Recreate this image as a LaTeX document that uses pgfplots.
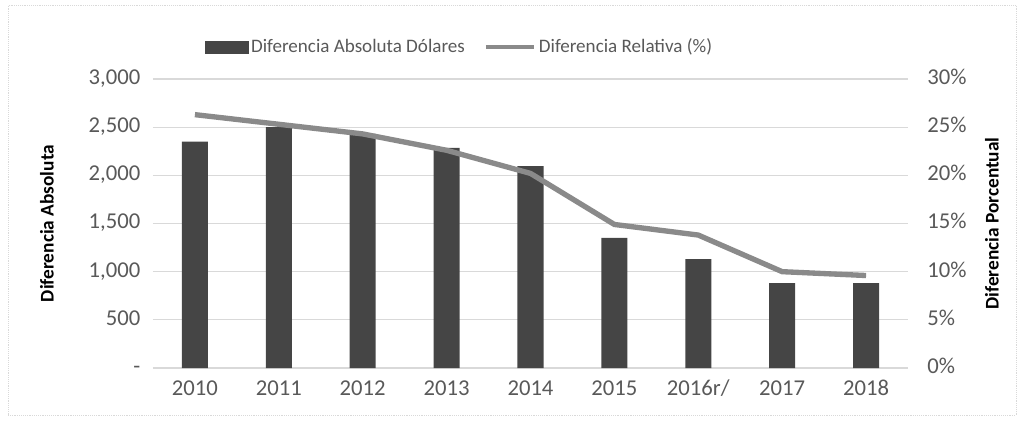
\documentclass[border=0pt]{standalone}
\usepackage{pgfplots}
\pgfplotsset{compat=1.18}
\usepackage{pgfplotstable}
\usepackage{fontspec}
\setmainfont{Carlito}

\definecolor{barfill}{HTML}{454545}
\definecolor{linegray}{HTML}{8A8A8A}
\definecolor{ticktext}{HTML}{595959}
\definecolor{gridgray}{HTML}{D9D9D9}

\pgfplotstableread{
x label  dif   pct
0 2010   2350  26.3
1 2011   2500  25.3
2 2012   2430  24.3
3 2013   2285  22.6
4 2014   2095  20.2
5 2015   1350  14.9
6 2016r/ 1130  13.8
7 2017    880  10.0
8 2018    880   9.6
}\datos

\begin{document}
\begin{tikzpicture}
\pgfplotsset{
  base/.style={
    at={(0,0)}, anchor=south west,
    scale only axis, width=566.25pt, height=216.75pt,
    xmin=-0.5, xmax=8.5,
    axis line style={draw=none},
    major tick length=0pt,
    typeset ticklabels with strut,
    tick label style={font=\fontsize{17}{20}\selectfont, text=ticktext},
    /pgf/number format/assume math mode=true,
  }
}
\begin{axis}[base,
  ymin=0, ymax=3000,
  ytick={0,500,...,3000},
  yticklabels={-,500,{1,000},{1,500},{2,000},{2,500},{3,000}},
  xtick=data,
  xticklabels from table={\datos}{label},
  ymajorgrids, grid style={gridgray, line width=0.8pt},
  ylabel={Diferencia Absoluta},
  ylabel style={at={(axis description cs:0,0.5)}, anchor=center, yshift=79.5pt,
    font=\bfseries\fontsize{14.5}{16}\selectfont},
  yticklabel style={xshift=-6pt},
  xticklabel style={yshift=-3pt},
]
\addplot[ybar, bar width=19.5pt, fill=barfill, draw=none] table[x=x, y=dif]{\datos};
\end{axis}

\begin{axis}[base,
  ymin=0, ymax=30,
  axis y line*=right, axis x line=none,
  ytick={0,5,...,30},
  yticklabels={0\%,5\%,10\%,15\%,20\%,25\%,30\%},
  ylabel={Diferencia Porcentual},
  ylabel style={at={(axis description cs:1,0.5)}, anchor=center, yshift=-63pt,
    font=\bfseries\fontsize{14.5}{16}\selectfont},
  yticklabel style={xshift=11pt},
  legend style={at={(axis description cs:0.4066,1.111)}, anchor=center, draw=none,
    fill=none, font=\fontsize{14.3}{16}\selectfont\color{ticktext},
    /tikz/every even column/.append style={column sep=12pt}},
  legend columns=2,
]
\addlegendimage{legend image code/.code={\fill[barfill] (0pt,-4.5pt) rectangle (32pt,4.5pt);}}
\addlegendentry{Diferencia Absoluta Dólares}
\addplot[linegray, line width=4pt,
  legend image code/.code={\draw[linegray, line width=3.5pt] (0pt,0pt) -- (36pt,0pt);}]
  table[x=x, y=pct]{\datos};
\addlegendentry{Diferencia Relativa (\%)}
\end{axis}

\draw[gridgray, densely dotted] (-108.75pt,-35.25pt) rectangle (647.25pt,272.25pt);
\pgfresetboundingbox
\path (-114.75pt,-45.75pt) rectangle (651.75pt,276pt);
\end{tikzpicture}
\end{document}
